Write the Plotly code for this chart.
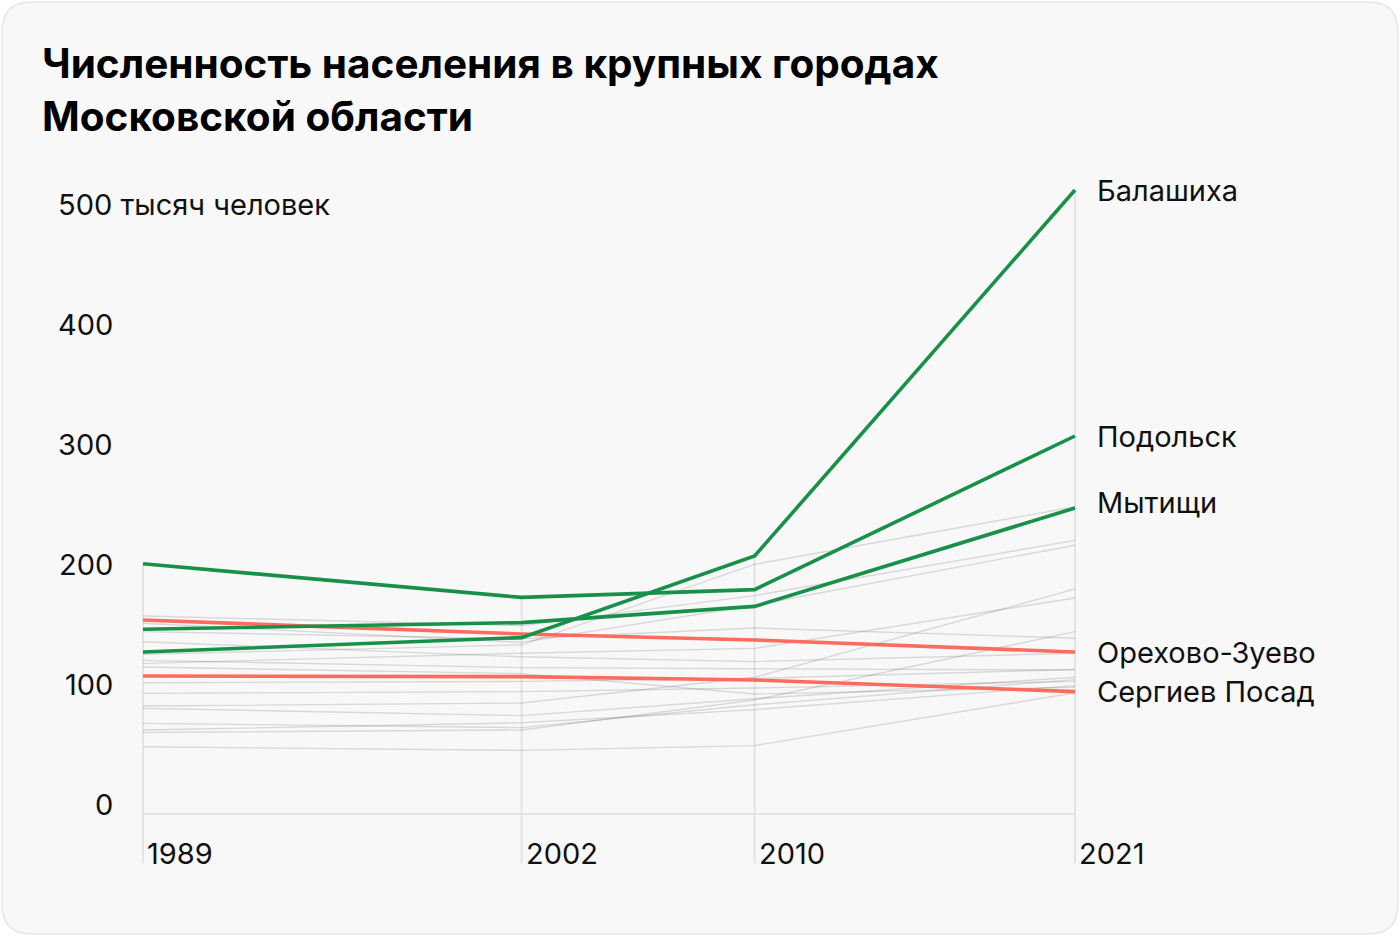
import plotly.graph_objects as go

# ---------------- data ----------------
years = [1989, 2002, 2010, 2021]

# highlighted cities (thousand people)
balashikha = [135, 147, 215, 520]
podolsk = [208.5, 180.5, 187, 315]
mytishchi = [154, 159.5, 173, 255]
orekhovo = [161.7, 150, 145, 135]
sergiev = [115, 114.5, 111.7, 102]

green_names = ["Балашиха", "Подольск", "Мытищи"]
green_values = [balashikha, podolsk, mytishchi]
red_names = ["Орехово-Зуево", "Сергиев Посад"]
red_values = [orekhovo, sergiev]

# other large cities (grey background lines)
khimki = [133, 141, 208, 256]
lyubertsy = [165, 157, 182, 228]
korolev = [159, 143, 174, 224]
odintsovo = [125.5, 134, 138, 180]
krasnogorsk = [90, 92.5, 114, 187.5]
elektrostal = [152, 146, 155, 146.5]
serpukhov = [143.6, 131, 127, 134]
noginsk = [122.5, 117, 100, 105.6]
shchyolkovo = [109.4, 110.5, 113, 120.5]
domodedovo = [68, 70, 95, 152]
zhukovsky = [100.5, 102, 105, 110.5]
ramenskoye = [88, 82, 96, 114]
dolgoprudny = [75.5, 72, 91, 112]
reutov = [70, 76, 87, 107]
kolomna = [128, 122, 121, 120]
other_small = [56, 53, 57, 101]
grey_values = [khimki, lyubertsy, korolev, odintsovo, krasnogorsk, elektrostal,
               serpukhov, noginsk, shchyolkovo, domodedovo, zhukovsky, ramenskoye,
               dolgoprudny, reutov, kolomna, other_small]

y_ticks = [0, 100, 200, 300, 400, 500]
y_tick_text = ["0", "100", "200", "300", "400", "500 тысяч человек"]
x_tick_text = ["1989", "2002", "2010", "2021"]
title_text = "Численность населения в крупных городах<br>Московской области"

# ---------------- style ----------------
W, H = 1400, 936
GREEN = "#17914a"
RED = "#ff6b5c"
FONT = "Inter"
BOTTOM_EXT = -41  # vertical year lines run below the axis

fig = go.Figure()

# vertical year lines from each year's max down below axis
all_series = green_values + red_values + grey_values
vx, vy = [], []
for i, yr in enumerate(years):
    top = max(s[i] for s in all_series)
    vx += [yr, yr, None]
    vy += [top, BOTTOM_EXT, None]
fig.add_trace(go.Scatter(x=vx, y=vy, mode="lines",
                         line=dict(color="#e4e4e4", width=2),
                         hoverinfo="skip", showlegend=False))
# baseline
fig.add_trace(go.Scatter(x=[years[0], years[-1]], y=[0, 0], mode="lines",
                         line=dict(color="#e4e4e4", width=2),
                         hoverinfo="skip", showlegend=False))

for s in grey_values:
    fig.add_trace(go.Scatter(x=years, y=s, mode="lines",
                             line=dict(color="rgba(0,0,0,0.13)", width=1.4),
                             hoverinfo="skip", showlegend=False))

for name, s in zip(red_names, red_values):
    fig.add_trace(go.Scatter(x=years, y=s, mode="lines", name=name,
                             line=dict(color=RED, width=3.6), showlegend=False))
for name, s in zip(green_names, green_values):
    fig.add_trace(go.Scatter(x=years, y=s, mode="lines", name=name,
                             line=dict(color=GREEN, width=3.6), showlegend=False))

annotations = []
TXT = dict(family=FONT, size=29, color="#111111")
# city labels
label_shift = {"Мытищи": 6}
for name, s in list(zip(green_names, green_values)) + list(zip(red_names, red_values)):
    annotations.append(dict(x=years[-1], y=s[-1], xref="x", yref="y", text=name,
                            xanchor="left", yanchor="middle", xshift=20,
                            yshift=label_shift.get(name, 0), showarrow=False,
                            font=TXT))
# y tick labels
for v, t in zip(y_ticks, y_tick_text):
    if v == y_ticks[-1]:
        annotations.append(dict(x=56 / W, y=v, xref="paper", yref="y", text=t,
                                xanchor="left", yanchor="middle", yshift=10,
                                showarrow=False, font=TXT))
    else:
        annotations.append(dict(x=115 / W, y=v, xref="paper", yref="y", text=t,
                                xanchor="right", yanchor="middle", yshift=10,
                                showarrow=False, font=TXT))
# x tick labels
for yr, t in zip(years, x_tick_text):
    annotations.append(dict(x=yr, y=0, xref="x", yref="y", text=t,
                            xanchor="left", yanchor="middle", xshift=2, yshift=-39,
                            showarrow=False, font=TXT))
# title
annotations.append(dict(x=40 / W, y=1 - 90 / H, xref="paper", yref="paper",
                        text="<b>" + title_text + "</b>", align="left",
                        xanchor="left", yanchor="middle", showarrow=False,
                        font=dict(family=FONT, size=40.5, color="#000000")))

# rounded card background
def px(x):
    return x / W

def py(y):
    return 1 - y / H

x0, y0, x1, y1, r = 2, 2, 1398, 934, 30
path = (f"M {px(x0 + r)},{py(y0)} L {px(x1 - r)},{py(y0)} "
        f"Q {px(x1)},{py(y0)} {px(x1)},{py(y0 + r)} L {px(x1)},{py(y1 - r)} "
        f"Q {px(x1)},{py(y1)} {px(x1 - r)},{py(y1)} L {px(x0 + r)},{py(y1)} "
        f"Q {px(x0)},{py(y1)} {px(x0)},{py(y1 - r)} L {px(x0)},{py(y0 + r)} "
        f"Q {px(x0)},{py(y0)} {px(x0 + r)},{py(y0)} Z")

ppy = 932 / 32
fig.update_layout(
    width=W, height=H,
    margin=dict(l=0, r=0, t=0, b=0),
    paper_bgcolor="#ffffff",
    plot_bgcolor="rgba(0,0,0,0)",
    xaxis=dict(range=[1989 - 143 / ppy, 1989 + (W - 143) / ppy], domain=[0, 1],
               visible=False, fixedrange=True),
    yaxis=dict(range=[(814 - H) / 1.2, 814 / 1.2], domain=[0, 1],
               visible=False, fixedrange=True),
    shapes=[dict(type="path", path=path, xref="paper", yref="paper",
                 fillcolor="#f8f8f8", line=dict(color="#e6e6e6", width=1.5),
                 layer="below")],
    annotations=annotations,
    showlegend=False,
)

fig.write_html("out.html", config={"displayModeBar": False},
               post_script="document.body.style.margin='0';document.body.style.overflow='hidden';")
